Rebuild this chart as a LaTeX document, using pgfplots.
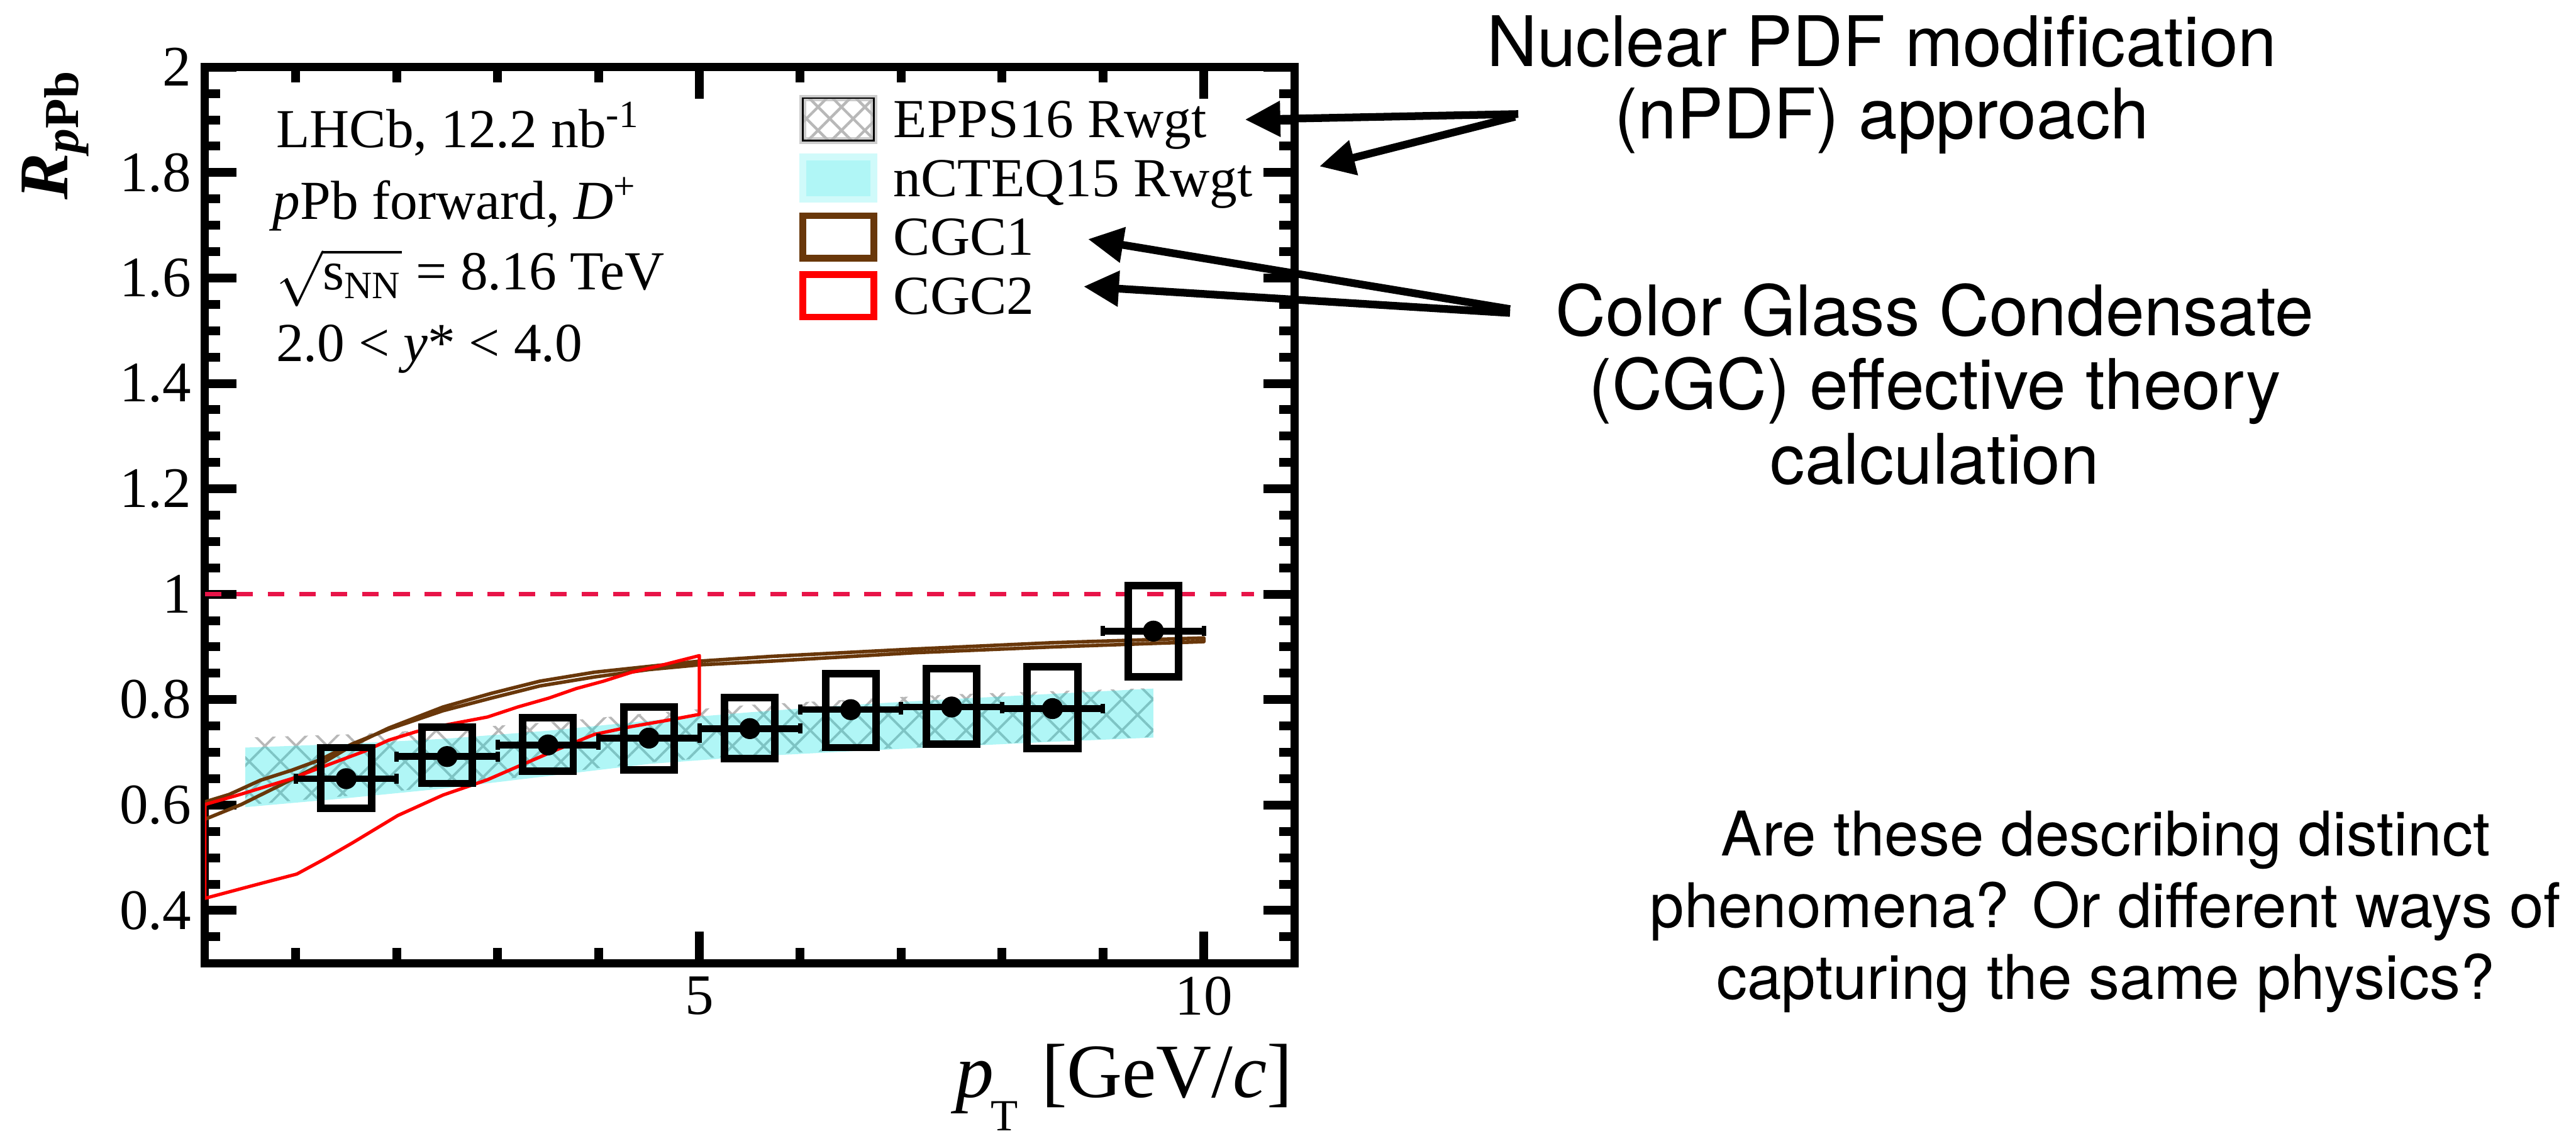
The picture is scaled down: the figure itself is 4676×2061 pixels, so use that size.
\documentclass[border=0pt]{standalone}
\usepackage{fontspec}
\setmainfont{Liberation Serif}
\newfontfamily\plotserif{Liberation Serif}
\newfontfamily\slidesans{TeX Gyre Heros}
\usepackage{pgfplots}
\pgfplotsset{compat=1.18}
\usepackage{pgfplotstable}
\usepgfplotslibrary{fillbetween}
\usetikzlibrary{patterns.meta,arrows.meta}

\definecolor{cgcbrown}{RGB}{105,55,10}
\definecolor{cgcred}{RGB}{255,0,0}
\definecolor{unitred}{RGB}{232,20,72}
\definecolor{hatchgray}{gray}{0.72}
\definecolor{ncteqcyan}{RGB}{0,225,225}
\definecolor{ncteqswatch}{RGB}{176,246,246}

\newcommand\tickfont{\plotserif\fontsize{14.8}{17}\selectfont}
\newcommand\legfont{\plotserif\fontsize{14.2}{16}\selectfont}
\newcommand\notefont{\plotserif\fontsize{14.2}{16}\selectfont}
\newcommand\slidefont{\slidesans\fontsize{18}{21}\selectfont}
\newcommand\askfont{\slidesans\fontsize{15.9}{19}\selectfont}
\newcommand\legstrut{\rule{0pt}{3.3mm}}

% nPDF bands: nCTEQ15 (up/lo) and EPPS16 (eu/el)
\pgfplotstableread{
x    up     lo     eu     el
0.5  0.709  0.596  0.728  0.600
1.5  0.716  0.613  0.734  0.617
2.5  0.726  0.632  0.744  0.636
3.5  0.741  0.655  0.757  0.659
4.5  0.760  0.678  0.774  0.681
5.5  0.776  0.692  0.790  0.695
6.5  0.790  0.702  0.800  0.704
7.5  0.801  0.711  0.810  0.712
8.5  0.811  0.720  0.816  0.721
9.5  0.821  0.728  0.822  0.729
}\bands

% CGC1 band outline (lower edge forward, upper edge back)
\pgfplotstableread{
x     y
0.10  0.606
0.34  0.620
0.65  0.647
0.96  0.666
1.23  0.685
1.56  0.716
1.92  0.744
2.46  0.779
2.94  0.803
3.42  0.826
3.96  0.843
4.50  0.857
5.00  0.866
5.71  0.873
7.13  0.889
8.50  0.900
10.0  0.910
10.0  0.917
8.50  0.908
7.13  0.896
5.71  0.882
5.00  0.873
4.50  0.863
3.96  0.852
3.42  0.835
2.94  0.812
2.46  0.786
1.92  0.746
1.56  0.713
1.19  0.671
0.83  0.636
0.46  0.601
0.10  0.573
0.10  0.606
}\cgcone

% CGC2 band outline
\pgfplotstableread{
x     y
0.10  0.601
0.43  0.619
0.96  0.650
1.19  0.667
1.68  0.702
1.92  0.723
2.19  0.739
2.46  0.751
2.90  0.767
3.20  0.786
3.51  0.803
3.78  0.821
4.05  0.835
4.33  0.852
4.60  0.864
5.00  0.8835
5.00  0.772
4.69  0.761
4.33  0.749
3.96  0.734
3.60  0.706
3.20  0.673
2.90  0.648
2.46  0.619
2.01  0.580
1.56  0.528
1.28  0.497
1.01  0.469
0.65  0.451
0.10  0.423
0.10  0.601
}\cgctwo

% D+ R_pPb measurement, bin half width
\pgfplotstableread{
x    y      ex
1.5  0.650  0.5
2.5  0.692  0.5
3.5  0.714  0.5
4.5  0.727  0.5
5.5  0.745  0.5
6.5  0.781  0.5
7.5  0.786  0.5
8.5  0.783  0.5
9.5  0.930  0.5
}\dplus

\pgfplotsset{sysbox/.style={forget plot, black, line width=0.68mm, line join=miter, line cap=rect}}

\begin{document}
\begin{tikzpicture}[x=0.05mm,y=0.05mm]
\coordinate (AO) at (372,313);
\begin{axis}[
  at={(AO)}, anchor=south west,
  scale only axis, width=98.9mm, height=81.3mm,
  xmin=0.1, xmax=10.9, ymin=0.3, ymax=2,
  axis line style={line width=0.75mm},
  xtick={5,10}, minor xtick={1,2,3,4,6,7,8,9},
  ytick={0.4,0.6,0.8,1,1.2,1.4,1.6,1.8,2},
  minor ytick={0.35,0.45,0.5,0.55,0.65,0.7,0.75,0.85,0.9,0.95,1.05,1.1,1.15,1.25,1.3,1.35,1.45,1.5,1.55,1.65,1.7,1.75,1.85,1.9,1.95},
  xtick pos=both, ytick pos=both, tick align=inside,
  major tick length=2.85mm, minor tick length=1.4mm,
  tick style={line width=0.8mm, black},
  tick label style={font=\tickfont},
  /pgf/number format/assume math mode=true,
  legend cell align=left,
  legend style={at={(axis description cs:0.5455,0.9692)}, anchor=north west,
    draw=none, fill=none, inner sep=0pt, outer sep=0pt, font=\legfont,
    row sep=0.89mm, column sep=1.5mm,
    nodes={inner sep=0pt, text depth=0pt}},
]

% legend entries
\addlegendimage{legend image code/.code={
  \draw[draw=hatchgray!70!white, line width=0.6mm] (0,-1.925mm) rectangle (6.45mm,1.925mm);
  \path[pattern={Lines[angle=45,distance=1.5mm,line width=0.25mm]}, pattern color=hatchgray] (0,-1.925mm) rectangle (6.45mm,1.925mm);
  \path[pattern={Lines[angle=-45,distance=1.5mm,line width=0.25mm]}, pattern color=hatchgray] (0,-1.925mm) rectangle (6.45mm,1.925mm);}}
\addlegendentry{\legstrut EPPS16 Rwgt}
\addlegendimage{legend image code/.code={
  \draw[draw=ncteqswatch!60!white, fill=ncteqswatch, line width=0.6mm] (0,-1.925mm) rectangle (6.45mm,1.925mm);}}
\addlegendentry{\legstrut nCTEQ15 Rwgt}
\addlegendimage{legend image code/.code={
  \draw[draw=cgcbrown, line width=0.6mm] (0,-1.925mm) rectangle (6.45mm,1.925mm);}}
\addlegendentry{\legstrut CGC1}
\addlegendimage{legend image code/.code={
  \draw[draw=cgcred, line width=0.6mm] (0,-1.925mm) rectangle (6.45mm,1.925mm);}}
\addlegendentry{\legstrut CGC2}

% unity reference
\addplot[forget plot, unitred, line width=0.4mm, dash pattern=on 1.5mm off 1.35mm]
  coordinates {(0.1,1) (10.5,1)};

% EPPS16 hatched band
\addplot[forget plot, draw=none, name path=eppsU] table[x=x,y=eu] {\bands};
\addplot[forget plot, draw=none, name path=eppsL] table[x=x,y=el] {\bands};
\addplot[forget plot, draw=none, pattern={Lines[angle=45,distance=2mm,line width=0.22mm]}, pattern color=hatchgray]
  fill between[of=eppsU and eppsL];
\addplot[forget plot, draw=none, pattern={Lines[angle=-45,distance=2mm,line width=0.22mm]}, pattern color=hatchgray]
  fill between[of=eppsU and eppsL];

% nCTEQ15 band
\addplot[forget plot, draw=none, name path=ncU] table[x=x,y=up] {\bands};
\addplot[forget plot, draw=none, name path=ncL] table[x=x,y=lo] {\bands};
\addplot[forget plot, draw=none, fill=ncteqcyan, fill opacity=0.31]
  fill between[of=ncU and ncL];

% CGC calculations
\addplot[forget plot, cgcbrown, line width=0.32mm, line join=round] table[x=x,y=y] {\cgcone};
\addplot[forget plot, cgcred, line width=0.3mm, line join=round] table[x=x,y=y] {\cgctwo};

% systematic uncertainty boxes
\addplot[sysbox] coordinates {(1.25,0.594) (1.75,0.594) (1.75,0.709) (1.25,0.709) (1.25,0.594)};
\addplot[sysbox] coordinates {(2.25,0.641) (2.75,0.641) (2.75,0.748) (2.25,0.748) (2.25,0.641)};
\addplot[sysbox] coordinates {(3.25,0.664) (3.75,0.664) (3.75,0.766) (3.25,0.766) (3.25,0.664)};
\addplot[sysbox] coordinates {(4.25,0.667) (4.75,0.667) (4.75,0.786) (4.25,0.786) (4.25,0.667)};
\addplot[sysbox] coordinates {(5.25,0.688) (5.75,0.688) (5.75,0.804) (5.25,0.804) (5.25,0.688)};
\addplot[sysbox] coordinates {(6.25,0.709) (6.75,0.709) (6.75,0.849) (6.25,0.849) (6.25,0.709)};
\addplot[sysbox] coordinates {(7.25,0.716) (7.75,0.716) (7.75,0.859) (7.25,0.859) (7.25,0.716)};
\addplot[sysbox] coordinates {(8.25,0.707) (8.75,0.707) (8.75,0.862) (8.25,0.862) (8.25,0.707)};
\addplot[sysbox] coordinates {(9.25,0.843) (9.75,0.843) (9.75,1.016) (9.25,1.016) (9.25,0.843)};

% data points with bin widths
\addplot[forget plot, only marks, mark=*, mark size=0.88mm, black,
  error bars/.cd, x dir=both, x explicit,
  error bar style={line width=0.6mm, black},
  error mark=|, error mark options={line width=0.4mm, mark size=0.45mm, black}]
  table[x=x, y=y, x error=ex] {\dplus};
\end{axis}

% picture frame
\path (0,0) rectangle (4676,2061);

% axis titles
\node[anchor=base east, inner sep=0pt, font=\fontsize{19.8}{22}\selectfont] at (2348,69)
  {\textit{p}\kern-0.3mm\raisebox{-3.0mm}{\fontsize{11.5}{12}\selectfont T}\kern0.4mm{} [GeV/\textit{c}]};
\node[rotate=90, anchor=base east, inner sep=0pt, font=\fontsize{18}{20}\selectfont\bfseries] at (123,1936)
  {\textit{R}\textsubscript{\textit{p}Pb}};

% measurement annotation
\node[anchor=base west, inner sep=0pt, font=\notefont] at (500,1793) {LHCb, 12.2 nb\textsuperscript{-1}};
\node[anchor=base west, inner sep=0pt, font=\notefont] at (494,1663) {\textit{p}Pb forward, \textit{D}\textsuperscript{+}};
\node[anchor=base west, inner sep=0pt, font=\notefont] at (500,1535) {$\sqrt{\mbox{s}_{\mbox{\plotserif\fontsize{10}{11}\selectfont NN}}}$ = 8.16 TeV};
\node[anchor=base west, inner sep=0pt, font=\notefont] at (500,1405) {2.0 < \textit{y}* < 4.0};

% slide annotations
\node[anchor=base, inner sep=0pt, font=\slidefont] at (3416,1941) {Nuclear PDF modification};
\node[anchor=base, inner sep=0pt, font=\slidefont] at (3416,1809) {(nPDF) approach};
\node[anchor=base, inner sep=0pt, font=\slidefont] at (3512,1452) {Color Glass Condensate};
\node[anchor=base, inner sep=0pt, font=\slidefont] at (3512,1318) {(CGC) effective theory};
\node[anchor=base, inner sep=0pt, font=\slidefont] at (3512,1183) {calculation};
\node[anchor=base, inner sep=0pt, font=\askfont] at (3822,508) {Are these describing distinct};
\node[anchor=base, inner sep=0pt, font=\askfont] at (3822,378) {phenomena? Or different ways of};
\node[anchor=base, inner sep=0pt, font=\askfont] at (3822,248) {capturing the same physics?};

% pointers to the legend entries
\begin{scope}[line width=0.7mm, -{Triangle[length=3.2mm,width=3.1mm]}]
\draw (2756,1854) -- (2260,1844);
\draw (2750,1849) -- (2395,1759);
\draw (2741,1500) -- (1975,1627);
\draw (2741,1493) -- (1967,1541);
\end{scope}
\end{tikzpicture}
\end{document}
